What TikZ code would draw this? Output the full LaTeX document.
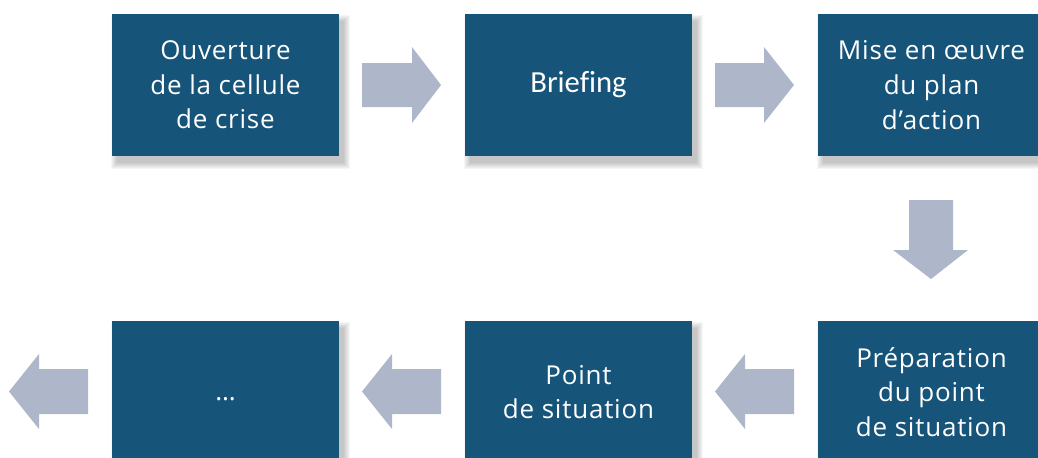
\documentclass[tikz,border=0pt]{standalone}
\usepackage{fontspec}
\setmainfont{Open Sans}[Ligatures=NoCommon, LetterSpace=3]
\newfontfamily\briefont{Carlito}[Ligatures=NoCommon]
\definecolor{boxblue}{HTML}{175479}
\definecolor{arrowgrey}{HTML}{AEB6C9}
\begin{document}
\begin{tikzpicture}[x=0.75pt,y=-0.75pt,
  stepbox/.style={rectangle, fill=boxblue, text=white, minimum width=170.25pt, minimum height=106.5pt, inner sep=0pt, align=center, font=\fontsize{19.5}{26}\selectfont},
  blockarrow/.style={fill=arrowgrey}]
\useasboundingbox (0,0) rectangle (1038,457);
% soft shadows
\foreach \cx/\cy in {225.5/85, 578.5/85, 931.5/85, 225.5/392, 578.5/392, 931.5/392}{
  \foreach \d in {6,5,...,0}{
    \fill[black,opacity=0.035] (\cx-113.5+5-\d,\cy-71+7-\d) rectangle (\cx+113.5+5+\d,\cy+71+7+\d);
  }
}
\node[stepbox] (b1) at (225.5,85) {Ouverture\\de la cellule\\de crise};
\node[stepbox] (b2) at (578.5,85) {\briefont\fontsize{23}{28}\selectfont Briefing};
\node[stepbox] (b3) at (931.5,85) {Mise en œuvre\\du plan\\d’action};
\node[stepbox] (b4) at (931.5,392) {Préparation\\du point\\de situation};
\node[stepbox] (b5) at (578.5,392) {Point\\de situation};
\node[stepbox] (b6) at (225.5,392) {\smash{\raisebox{-6pt}{…}}};
% right arrows (top row)
\fill[blockarrow] (362,63) -- (412,63) -- (412,47) -- (441,85) -- (412,123) -- (412,107) -- (362,107) -- cycle;
\fill[blockarrow] (715,63) -- (764,63) -- (764,47) -- (794,85) -- (764,123) -- (764,107) -- (715,107) -- cycle;
% down arrow
\fill[blockarrow] (909,200) -- (953,200) -- (953,250) -- (968,250) -- (931,279) -- (893,250) -- (909,250) -- cycle;
% left arrows (bottom row)
\fill[blockarrow] (794,369) -- (745,369) -- (745,354) -- (715,391.5) -- (745,429) -- (745,414) -- (794,414) -- cycle;
\fill[blockarrow] (441,369) -- (392,369) -- (392,354) -- (362,391.5) -- (392,429) -- (392,414) -- (441,414) -- cycle;
\fill[blockarrow] (88,369) -- (39,369) -- (39,354) -- (9,391.5) -- (39,429) -- (39,414) -- (88,414) -- cycle;
\end{tikzpicture}
\end{document}
